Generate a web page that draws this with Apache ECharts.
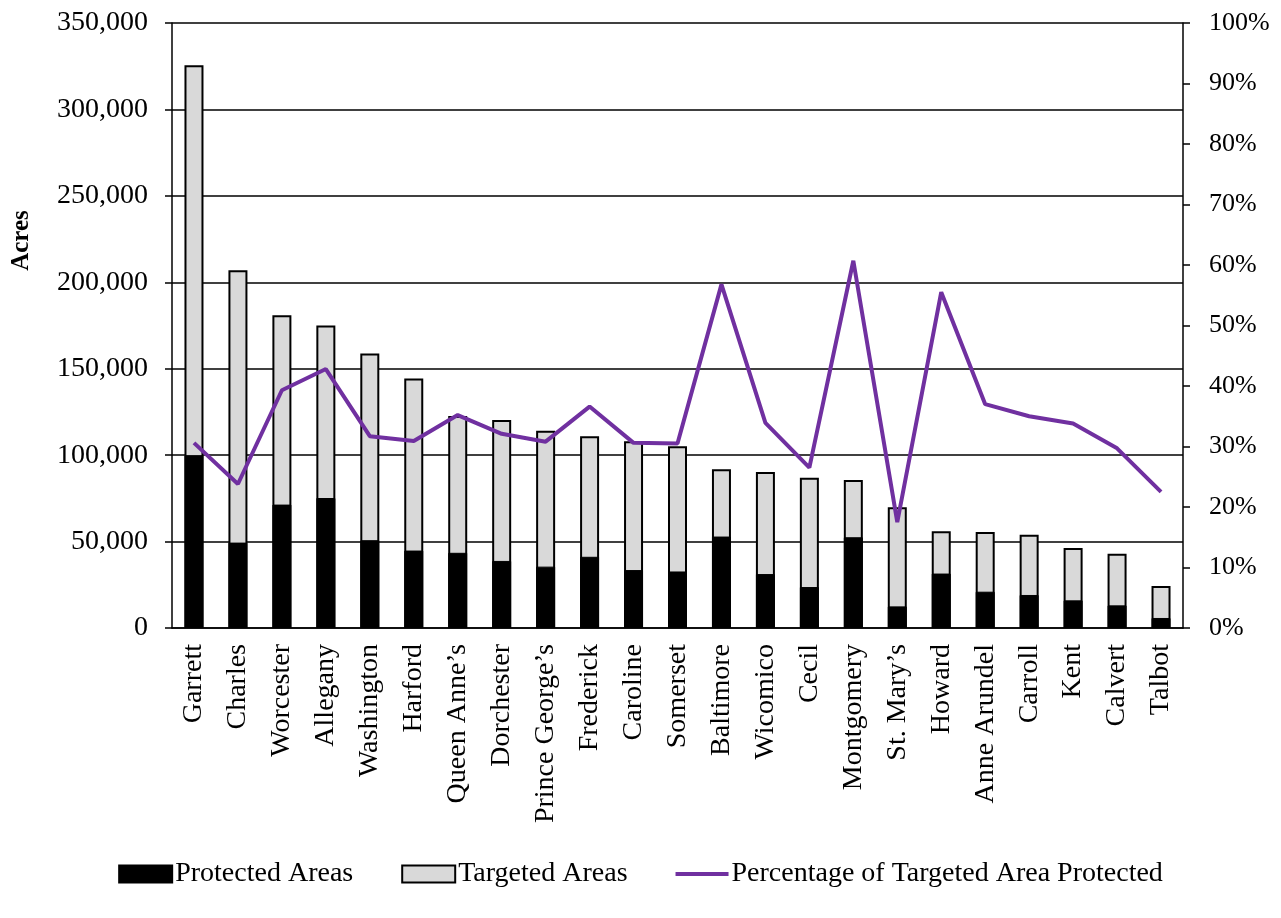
<!DOCTYPE html>
<html>
<head>
<meta charset="utf-8">
<script src="https://cdn.jsdelivr.net/npm/echarts@6/dist/echarts.min.js"></script>
<style>
  html, body { margin: 0; padding: 0; background: #fff; }
  #chart { width: 1281px; height: 918px; }
</style>
</head>
<body>
<div id="chart"></div>
<script>
const counties = ['Garrett', 'Charles', 'Worcester', 'Allegany', 'Washington', 'Harford',
  'Queen Anne’s', 'Dorchester', 'Prince George’s', 'Frederick', 'Caroline', 'Somerset',
  'Baltimore', 'Wicomico', 'Cecil', 'Montgomery', 'St. Mary’s', 'Howard', 'Anne Arundel',
  'Carroll', 'Kent', 'Calvert', 'Talbot']

const targetedAcres = [325500, 207000, 181000, 175000, 158800, 144300, 122700, 120400, 114100,
  111000, 108100, 105200, 91900, 90200, 86900, 85600, 69800, 56000, 55600, 53900, 46300, 42900, 24300]

const protectedAcres = [100000, 49400, 71400, 75200, 50800, 44800, 43500, 38800, 35500,
  41200, 33500, 32700, 52900, 31200, 23700, 52500, 12500, 31500, 21000, 19100, 16000, 13100, 5800]

const pctProtected = [30.6, 23.8, 39.3, 42.8, 31.7, 30.9, 35.2, 32.1, 30.8, 36.6, 30.6, 30.5,
  56.8, 33.9, 26.5, 60.7, 17.5, 55.5, 37.0, 35.0, 33.8, 29.7, 22.5]

const font = '"Liberation Serif", "Times New Roman", serif'

// thin bar inside a 53x17 box, for the line's legend entry
const lineIcon = 'path://M0,0 L0,0 M0,6.5 L53,6.5 L53,10.5 L0,10.5 Z M0,17 L0,17'

const chart = echarts.init(document.getElementById('chart'))

chart.setOption({
  animation: false,
  textStyle: { fontFamily: font, color: '#000' },
  grid: { left: 172, right: 98, top: 23, bottom: 290, containLabel: false, outerBoundsMode: 'none' },
  legend: {
    bottom: 25,
    left: 'center',
    itemWidth: 53,
    itemHeight: 17,
    itemGap: 48,
    textStyle: { fontFamily: font, fontSize: 28, color: '#000', padding: [0, 0, 0, -2] },
    data: [
      { name: 'Protected Areas', icon: 'rect' },
      { name: 'Targeted Areas', icon: 'rect' },
      { name: 'Percentage of Targeted Area Protected', icon: lineIcon }
    ]
  },
  xAxis: {
    type: 'category',
    data: counties,
    axisLine: { lineStyle: { color: '#000', width: 1.5 } },
    axisTick: { length: 7, lineStyle: { color: '#000', width: 1.5 } },
    axisLabel: { rotate: 90, interval: 0, margin: 16, fontSize: 28, color: '#000', fontFamily: font }
  },
  yAxis: [{
    type: 'value',
    min: 0,
    max: 350000,
    interval: 50000,
    name: 'Acres',
    nameLocation: 'middle',
    nameRotate: 90,
    nameGap: 138,
    nameTextStyle: { fontSize: 25, fontWeight: 'bold', color: '#000', fontFamily: font, padding: [0, 0, 0, 170] },
    axisLine: { show: true, lineStyle: { color: '#000', width: 1.5 } },
    axisTick: { show: true, length: 7, lineStyle: { color: '#000', width: 1.5 } },
    axisLabel: {
      margin: 24, fontSize: 28, color: '#000', fontFamily: font,
      formatter: v => v.toLocaleString('en-US')
    },
    splitLine: { show: true, lineStyle: { color: '#000', width: 1.5 } }
  }, {
    type: 'value',
    min: 0,
    max: 100,
    interval: 10,
    position: 'right',
    axisLine: { show: true, lineStyle: { color: '#000', width: 1.5 } },
    axisTick: { show: true, length: 7, lineStyle: { color: '#000', width: 1.5 } },
    axisLabel: { margin: 26, fontSize: 26, color: '#000', fontFamily: font, formatter: '{value}%' },
    splitLine: { show: false }
  }],
  series: [{
    name: 'Targeted Areas',
    type: 'bar',
    data: targetedAcres,
    barWidth: 19,
    barGap: '-100%',
    z: 2,
    itemStyle: { color: '#d9d9d9', borderColor: '#000', borderWidth: 2 }
  }, {
    name: 'Protected Areas',
    type: 'bar',
    data: protectedAcres,
    barWidth: 19,
    barGap: '-100%',
    z: 3,
    itemStyle: { color: '#000', borderColor: '#000', borderWidth: 1 }
  }, {
    name: 'Percentage of Targeted Area Protected',
    type: 'line',
    yAxisIndex: 1,
    data: pctProtected,
    symbol: 'none',
    z: 4,
    lineStyle: { color: '#7030a0', width: 4 },
    itemStyle: { color: '#7030a0' }
  }]
})
</script>
</body>
</html>
